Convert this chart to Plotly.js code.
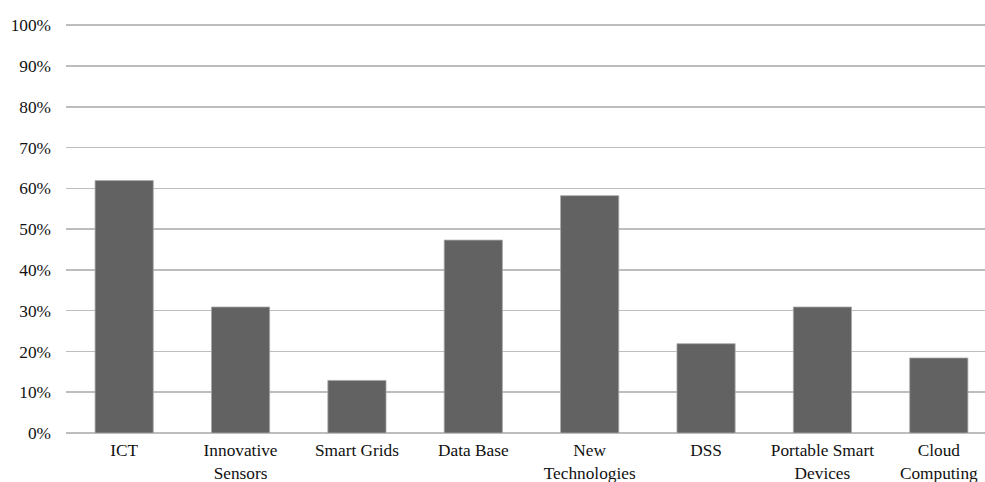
<!DOCTYPE html>
<html>
<head>
<meta charset="utf-8">
<script src="https://cdn.plot.ly/plotly-3.0.1.min.js"></script>
<style>html,body{margin:0;padding:0;background:#fff;}</style>
</head>
<body>
<div id="chart" style="width:985px;height:482px;"></div>
<script>
const categories = ["ICT", "Innovative<br>Sensors", "Smart Grids", "Data Base", "New<br>Technologies", "DSS", "Portable Smart<br>Devices", "Cloud<br>Computing"];
const values = [0.619, 0.309, 0.129, 0.473, 0.582, 0.219, 0.309, 0.184];
const yTickVals = [0, 0.1, 0.2, 0.3, 0.4, 0.5, 0.6, 0.7, 0.8, 0.9, 1.0];
const yTickText = ["0%", "10%", "20%", "30%", "40%", "50%", "60%", "70%", "80%", "90%", "100%"];

const FONT = 'Liberation Serif, Times New Roman, serif';

const trace = {
  type: 'bar',
  x: categories,
  y: values,
  width: 0.5,
  marker: { color: '#626262', line: { color: '#a8a8a8', width: 0.8 } },
  hoverinfo: 'x+y'
};

const layout = {
  width: 985,
  height: 482,
  margin: { l: 66, r: 0, t: 24, b: 49, pad: 0 },
  paper_bgcolor: '#ffffff',
  plot_bgcolor: '#ffffff',
  showlegend: false,
  font: { family: FONT, size: 17.3, color: '#111111' },
  xaxis: {
    type: 'category',
    range: [-0.5, 7.397],
    showgrid: false,
    showline: false,
    zeroline: false,
    ticks: '',
    ticklabelstandoff: 5,
    tickfont: { family: FONT, size: 17.3, color: '#111111' },
    fixedrange: true
  },
  yaxis: {
    range: [0, 1.003],
    tickvals: yTickVals,
    ticktext: yTickText,
    showgrid: true,
    gridcolor: '#bdbdbd',
    gridwidth: 1.5,
    zeroline: true,
    zerolinecolor: '#bdbdbd',
    zerolinewidth: 1.5,
    showline: false,
    ticks: '',
    ticklabelstandoff: 14,
    tickfont: { family: FONT, size: 17.3, color: '#111111' },
    fixedrange: true
  }
};

Plotly.newPlot('chart', [trace], layout, { displayModeBar: false, staticPlot: true });
</script>
</body>
</html>
